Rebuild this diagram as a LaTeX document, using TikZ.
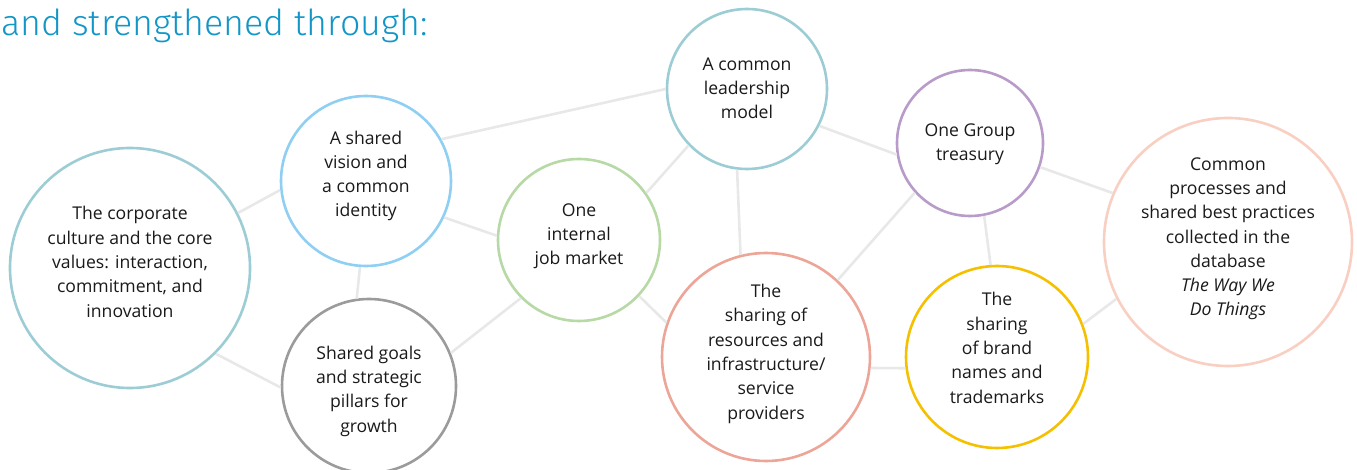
\documentclass[tikz,border=0pt]{standalone}
\usepackage{fontspec}
\setmainfont{Open Sans}
\newfontfamily\titlefont{Fira Sans Light}
\definecolor{ctitle}{HTML}{1296C8}
\definecolor{cteal}{HTML}{9DCDD4}
\definecolor{cblue}{HTML}{8ECFF3}
\definecolor{cgreen}{HTML}{B7D9A5}
\definecolor{cgray}{HTML}{9B9B9B}
\definecolor{cred}{HTML}{ECA597}
\definecolor{cyellow}{HTML}{F5C000}
\definecolor{cpurple}{HTML}{B99BC9}
\definecolor{cpink}{HTML}{F9CFC2}
\definecolor{cline}{HTML}{E8E8E8}
\definecolor{ctext}{HTML}{1A1A1A}
\begin{document}
\begin{tikzpicture}[x=1pt,y=-1pt,
  bub/.style={circle,draw,line width=2.6pt,fill=white,inner sep=0pt},
  txt/.style={anchor=base,align=center,inner sep=0pt,text=ctext,
    font=\fontsize{17.6}{24.3}\selectfont},
  link/.style={draw=cline,line width=2.6pt}]
\useasboundingbox (0,0) rectangle (1357,470);
\node[anchor=base west,text=ctitle,inner sep=0pt,font=\titlefont\fontsize{35.8}{40}\selectfont] (title) at (1,36) {and strengthened through:};
\node[bub,draw=cteal,minimum size=240pt] (cult) at (130,268) {};
\node[bub,draw=cblue,minimum size=170pt] (vis) at (366,181) {};
\node[bub,draw=cgreen,minimum size=162pt] (job) at (579,240) {};
\node[bub,draw=cgray,minimum size=174pt] (goal) at (369,386) {};
\node[bub,draw=cteal,minimum size=160pt] (lead) at (747,89) {};
\node[bub,draw=cpurple,minimum size=146pt] (treas) at (970,143) {};
\node[bub,draw=cred,minimum size=208pt] (res) at (766,357) {};
\node[bub,draw=cyellow,minimum size=182pt] (brand) at (997,357) {};
\node[bub,draw=cpink,minimum size=248pt] (comm) at (1228,242) {};
\node[txt] (cult-t) at (130,317) {The corporate\\culture and the core\\values: interaction,\\commitment, and\\innovation};
\node[txt] (vis-t) at (366,217) {A shared\\vision and\\a common\\identity};
\node[txt] (job-t) at (579,265) {One\\internal\\job market};
\node[txt] (goal-t) at (369,432) {Shared goals\\and strategic\\pillars for\\growth};
\node[txt] (lead-t) at (747,119) {A common\\leadership\\model};
\node[txt] (treas-t) at (970,161) {One Group\\treasury};
\node[txt] (res-t) at (766,419) {The\\sharing of\\resources and\\infrastructure/\\service\\providers};
\node[txt] (brand-t) at (997,403) {The\\sharing\\of brand\\names and\\trademarks};
\node[txt] (comm-t) at (1228,316) {Common\\processes and\\shared best practices\\collected in the\\database\\\textit{The Way We}\\\textit{Do Things}};
\path[link] (cult.27) -- (vis.186);
\path[link] (cult.-45) -- (goal.181);
\path[link] (vis.-94) -- (goal.98);
\path[link] (vis.-25) -- (job.177);
\path[link] (vis.29) -- (lead.180);
\path[link] (job.35) -- (lead.224.5);
\path[link] (goal.22.5) -- (job.225);
\path[link] (job.-43) -- (res.161);
\path[link] (lead.263.5) -- (res.104.6);
\path[link] (lead.-27) -- (treas.189);
\path[link] (treas.222) -- (res.47.7);
\path[link] (treas.-79) -- (brand.94);
\path[link] (treas.-19.4) -- (comm.157.9);
\path[link] (res.-6.6) -- (brand.187.5);
\path[link] (brand.21) -- (comm.207.6);
\end{tikzpicture}
\end{document}
